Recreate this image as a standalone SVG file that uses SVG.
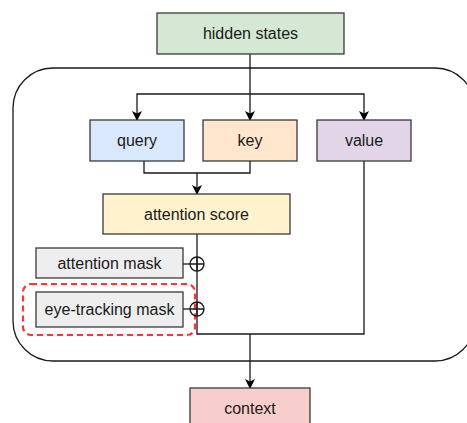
<svg xmlns="http://www.w3.org/2000/svg" width="467" height="423" viewBox="0 0 467 423">
<defs>
<style>
.box{stroke:#36393d;stroke-width:1.3}
.t{font-family:"Liberation Sans",Arial,sans-serif;font-size:16px;fill:#1a1a1a;text-anchor:middle}
.c{fill:none;stroke:#1a1a1a;stroke-width:1.3}
</style>
<marker id="ah" viewBox="0 0 10 10" refX="9" refY="5" markerWidth="10" markerHeight="10" markerUnits="userSpaceOnUse" orient="auto">
<path d="M0,0 L10,5 L0,10 L2.5,5 Z" fill="#000"/>
</marker>
</defs>
<rect id="container" x="13" y="68" width="462" height="293" rx="40" fill="none" stroke="#1a1a1a" stroke-width="1.3"/>
<g id="connectors" class="c">
<path d="M250,54 V120" marker-end="url(#ah)"/>
<path d="M250,94 H137 V120" marker-end="url(#ah)"/>
<path d="M250,94 H364 V120" marker-end="url(#ah)"/>
<path d="M144,161 V173 H250 V161"/>
<path d="M197,173 V194" marker-end="url(#ah)"/>
<path d="M197,234 V334 H364 V161"/>
<path d="M250,334 V388" marker-end="url(#ah)"/>
<path d="M183,264 H190"/>
<path d="M183,309 H190"/>
</g>
<g id="hidden-states"><rect class="box" x="157" y="13" width="187" height="41" fill="#d5e8d4"/><text class="t" x="250.5" y="39">hidden states</text></g>
<g id="query"><rect class="box" x="90" y="120" width="94" height="41" fill="#dae8fc"/><text class="t" x="137" y="146">query</text></g>
<g id="key"><rect class="box" x="203" y="120" width="94" height="41" fill="#ffe6cc"/><text class="t" x="250" y="146">key</text></g>
<g id="value"><rect class="box" x="317" y="120" width="94" height="41" fill="#e1d5e7"/><text class="t" x="364" y="146">value</text></g>
<g id="attention-score"><rect class="box" x="103" y="194" width="187" height="40" fill="#fff2cc"/><text class="t" x="196.5" y="220">attention score</text></g>
<g id="attention-mask"><rect class="box" x="36" y="248" width="147" height="30" fill="#eeeeee" stroke="#666"/><text class="t" x="109.5" y="269">attention mask</text></g>
<g id="eye-tracking-mask"><rect class="box" x="36" y="292" width="147" height="35" fill="#eeeeee"/><text class="t" x="109.5" y="315">eye-tracking mask</text></g>
<g id="highlight"><rect x="23" y="284" width="172" height="51" rx="8" fill="none" stroke="#ff3333" stroke-width="2.2" stroke-dasharray="6 4"/></g>
<g id="plus1" class="c"><circle cx="197" cy="264" r="7"/><path d="M190,264 H204 M197,257 V271"/></g>
<g id="plus2" class="c"><circle cx="197" cy="309" r="7"/><path d="M190,309 H204 M197,302 V316"/></g>
<g id="context"><rect class="box" x="190" y="388" width="120" height="40" fill="#f8cecc"/><text class="t" x="250" y="414">context</text></g>
</svg>
